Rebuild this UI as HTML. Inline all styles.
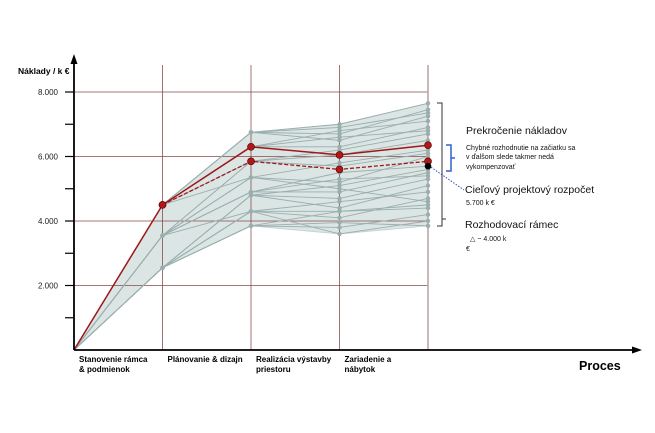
<!DOCTYPE html>
<html><head><meta charset="utf-8"><style>
body{margin:0;background:#fff;}
svg{display:block;font-family:"Liberation Sans",sans-serif;}
</style></head><body>
<svg id="c" width="655" height="433" viewBox="0 0 655 433">
</svg>
<script>
const categories=["Stanovenie rámca\n& podmienok","Plánovanie & dizajn","Realizácia výstavby\npriestoru","Zariadenie a\nnábytok",""];
const yTicks=[2000,4000,6000,8000];
const yTickLabels=["2.000","4.000","6.000","8.000"];
const envelopeUpper=[0,4500,6750,7000,7650];
const envelopeLower=[0,2550,3850,3600,3850];
const greyPaths=[
[0,4500,6750,7000,7650],[0,4500,6750,6700,7450],[0,4500,6750,6500,7250],[0,4500,6300,6800,7100],
[0,4500,6300,6300,6900],[0,4500,5850,6200,6700],[0,3550,5850,6050,6500],[0,3550,5350,5800,6200],
[0,3550,5350,5200,6000],[0,3550,4900,5500,5700],[0,3550,4900,4900,5500],[0,2550,4800,4700,5300],
[0,2550,4800,4400,5100],[0,2550,4300,4600,4900],[0,2550,4300,4100,4700],[0,2550,3850,4300,4400],
[0,2550,3850,3800,4200],[0,3550,4300,3600,4000],[0,2550,3850,3950,3850],[0,4500,5350,5000,4600],
[0,4500,6750,6900,7350],[0,4500,6300,6600,6800],[0,3550,5850,5700,6100],[0,3550,4900,5300,5400],
[0,2550,4800,5100,5600],[0,2550,4300,4300,4500]
];
const solidPath=[0,4500,6300,6050,6350];
const dashedPath=[4500,5850,5600,5850];
const targetValue=5700;

const svg=document.getElementById('c');
const NS='http://www.w3.org/2000/svg';
const X0=74,XS=88.5,Y0=350,YK=0.032250;
const xp=i=>X0+i*XS, yp=v=>Y0-v*YK;
function el(t,a,name,parent){const e=document.createElementNS(NS,t);for(const k in a)e.setAttribute(k,a[k]);


(parent||svg).appendChild(e);return e;}
let pts=envelopeUpper.map((v,i)=>xp(i)+','+yp(v)).concat(envelopeLower.map((v,i)=>xp(i)+','+yp(v)).reverse()).join(' ');
el('polygon',{points:pts,fill:'#dbe5e4',stroke:'#c5d3d2','stroke-width':1},'cost-envelope');
yTicks.forEach((v,i)=>{
 el('line',{x1:X0,x2:xp(4),y1:yp(v),y2:yp(v),stroke:'#8a4a4a','stroke-width':0.7},'gridline-'+v);
 const t=el('text',{x:58,y:yp(v)+3,'font-size':8,'text-anchor':'end',fill:'#222'},'y-tick-label');t.textContent=yTickLabels[i];
});
for(let v=1000;v<=8000;v+=1000) el('line',{x1:X0-9,x2:X0,y1:yp(v),y2:yp(v),stroke:'#000','stroke-width':1.2},'y-tick');
for(let i=1;i<5;i++) el('line',{x1:xp(i),x2:xp(i),y1:65,y2:Y0,stroke:i==4?'#b8a0a0':'#7a3a3a','stroke-width':i==4?1.5:0.7},'column-line');
greyPaths.forEach(p=>{
 el('polyline',{points:p.map((v,i)=>xp(i)+','+yp(v)).join(' '),fill:'none',stroke:'#9aaeae','stroke-width':0.9},'scenario-line');
 p.forEach((v,i)=>{if(i>0)el('circle',{cx:xp(i),cy:yp(v),r:2.2,fill:'#9aaeae'},'scenario-point');});
});
el('polyline',{points:dashedPath.map((v,i)=>xp(i+1)+','+yp(v)).join(' '),fill:'none',stroke:'#a01818','stroke-width':1.3,'stroke-dasharray':'4,2'},'optimized-path');
el('polyline',{points:solidPath.map((v,i)=>xp(i)+','+yp(v)).join(' '),fill:'none',stroke:'#a01818','stroke-width':1.5},'actual-path');
dashedPath.forEach((v,i)=>el('circle',{cx:xp(i+1),cy:yp(v),r:3.5,fill:'#b01818',stroke:'#500','stroke-width':0.6},'optimized-point'));
solidPath.forEach((v,i)=>{if(i>0)el('circle',{cx:xp(i),cy:yp(v),r:3.5,fill:'#b01818',stroke:'#500','stroke-width':0.6},'actual-point');});
el('circle',{cx:xp(4),cy:yp(targetValue),r:3.3,fill:'#000'},'target-point');
el('line',{x1:xp(4)+3,y1:yp(targetValue)+1,x2:464,y2:190,stroke:'#3050c0','stroke-width':1,'stroke-dasharray':'1.5,1.5'},'target-leader');
el('line',{x1:X0,y1:Y0,x2:X0,y2:62,stroke:'#000','stroke-width':1.8},'y-axis');
el('polygon',{points:`${X0-3.5},64 ${X0+3.5},64 ${X0},54`,fill:'#000'},'y-axis-arrow');
el('line',{x1:X0,y1:Y0,x2:633,y2:Y0,stroke:'#000','stroke-width':1.8},'x-axis');
el('polygon',{points:`632,346.5 632,353.5 642,350`,fill:'#000'},'x-axis-arrow');
let t=el('text',{x:18,y:74,'font-size':8.5,'font-weight':'bold'},'y-axis-title');t.textContent='Náklady / k €';
t=el('text',{x:579,y:370,'font-size':12.5,'font-weight':'bold'},'x-axis-title');t.textContent='Proces';
categories.forEach((c,i)=>{if(!c)return;const tx=el('text',{x:xp(i)+5,y:362,'font-size':8,'font-weight':'bold'},'category-label');
 c.split('\n').forEach((s,j)=>{const ts=document.createElementNS(NS,'tspan');ts.setAttribute('x',xp(i)+5);ts.setAttribute('dy',j?10:0);ts.textContent=s;tx.appendChild(ts);});});
el('path',{d:'M437,103 H442 V226 H437 M442,219 H446',fill:'none',stroke:'#333','stroke-width':1},'range-bracket');
el('path',{d:'M446,145 H451 V158 H455 M451,158 V171 H446',fill:'none',stroke:'#3060d0','stroke-width':1.5},'overrun-bracket');
function txt(x,y,s,fs,name){const e=el('text',{x:x,y:y,'font-size':fs,fill:'#111'},name);e.textContent=s;}
txt(466,134,'Prekročenie nákladov',10.5,'overrun-title');
txt(466,150,'Chybné rozhodnutie na začiatku sa',7,'overrun-note');
txt(466,159,'v ďalšom slede takmer nedá',7,'overrun-note');
txt(466,169,'vykompenzovať',7,'overrun-note');
txt(465,193,'Cieľový projektový rozpočet',10.5,'target-title');
txt(466,205,'5.700 k €',7,'target-value');
txt(465,228,'Rozhodovací rámec',10.5,'range-title');
txt(470,241,'△ ~ 4.000 k',7,'range-value');
txt(466,251,'€',7,'range-unit');
</script>
</body></html>
